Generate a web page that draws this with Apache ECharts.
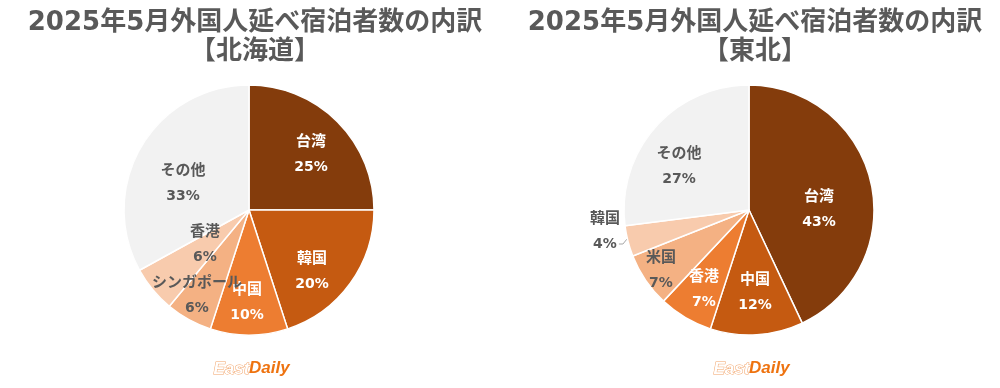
<!DOCTYPE html>
<html><head><meta charset="utf-8">
<script src="https://cdn.jsdelivr.net/npm/echarts@6/dist/echarts.min.js"></script>
<style>html,body{margin:0;padding:0;background:#fff}#c{width:1000px;height:388px}</style>
</head><body><div id="c"></div>
<script>
// Data
const titleMain = '2025年5月外国人延べ宿泊者数の内訳';
const regionA = '【北海道】';
const regionB = '【東北】';
const catsA = ['台湾', '韓国', '中国', 'シンガポール', '香港', 'その他'];
const valsA = [25, 20, 10, 6, 6, 33];
const catsB = ['台湾', '中国', '香港', '米国', '韓国', 'その他'];
const valsB = [43, 12, 7, 7, 4, 27];

// Styles
const palette = ['#843C0C', '#C55A11', '#ED7D31', '#F4B183', '#F8CBAD', '#F2F2F2'];
const textColors = ['#FFFFFF', '#FFFFFF', '#FFFFFF', '#595959', '#595959', '#595959'];
const FONT = '"DejaVu Sans", "Noto Sans CJK JP", sans-serif';
// label centers (relative to pie centre)
const labelPosA = [[62, -55], [63, 62], [-2, 93], [-52, 86], [-44, 35], [-66, -26]];
const labelPosB = [[70, 0], [6, 83], [-45, 80], [-88, 61], [-144, 22], [-70, -43]];
const R = 125;

const chart = echarts.init(document.getElementById('c'));

function makePie(cats, vals, cx, cy, labelPos, outsideIdx) {
  const total = vals.reduce((a, b) => a + b, 0);
  return {
    type: 'pie',
    center: [cx, cy],
    radius: [0, R],
    startAngle: 90,
    clockwise: true,
    silent: true,
    animation: false,
    avoidLabelOverlap: false,
    itemStyle: { borderColor: '#fff', borderWidth: 1.5 },
    data: cats.map((n, i) => {
      const col = i === outsideIdx ? '#595959' : textColors[i];
      return {
        name: n, value: vals[i],
        itemStyle: { color: palette[i] },
        label: {
          show: true,
          position: i === outsideIdx ? 'outside' : 'inside',
          color: col,
          fontFamily: FONT, fontWeight: 'bold', fontSize: 14, lineHeight: 25,
          formatter: p => '{n|' + p.name + '}\n{v|' + p.value + '%}',
          rich: {
            n: { fontFamily: FONT, fontWeight: 'bold', fontSize: 15, lineHeight: 25, color: col },
            v: { fontFamily: FONT, fontWeight: 'bold', fontSize: 14, lineHeight: 25, color: col }
          }
        },
        labelLine: { show: i === outsideIdx, smooth: false, lineStyle: { color: '#A6A6A6', width: 1 } }
      };
    }),
    labelLayout: function (p) {
      const d = labelPos[p.dataIndex];
      const out = { x: cx + d[0], y: cy + d[1], align: 'center', verticalAlign: 'middle' };
      if (p.dataIndex === outsideIdx) {
        let before = 0;
        for (let k = 0; k < p.dataIndex; k++) before += vals[k];
        const mid = (before + vals[p.dataIndex] / 2) / total * 2 * Math.PI;
        const ex = cx + R * Math.sin(mid), ey = cy - R * Math.cos(mid);
        const ty = cy + d[1] + 11;
        out.labelLinePoints = [[ex - 1, ey - 2], [ex - 5, ty + 1], [ex - 9, ty + 1]];
      }
      return out;
    }
  };
}

function logo(cx, cy) {
  return [
    { type: 'text', left: cx - 37, top: cy - 10, style: { text: 'East', font: 'italic bold 17px "Liberation Sans", Arial, sans-serif', fill: '#fff', stroke: '#F2A46A', lineWidth: 1 } },
    { type: 'text', left: cx - 1, top: cy - 10, style: { text: 'Daily', font: 'italic bold 17px "Liberation Sans", Arial, sans-serif', fill: '#EE7310' } }
  ];
}

chart.setOption({
  backgroundColor: '#fff',
  animation: false,
  title: [
    { text: titleMain + '\n' + regionA, left: 250, top: 4, textAlign: 'center',
      textStyle: { fontFamily: FONT, fontWeight: 'bold', fontSize: 26, color: '#595959', lineHeight: 29 } },
    { text: titleMain + '\n' + regionB, left: 750, top: 4, textAlign: 'center',
      textStyle: { fontFamily: FONT, fontWeight: 'bold', fontSize: 26, color: '#595959', lineHeight: 29 } }
  ],
  series: [
    makePie(catsA, valsA, 249, 210, labelPosA, -1),
    makePie(catsB, valsB, 749, 210, labelPosB, 4)
  ],
  graphic: [].concat(logo(250, 370), logo(750, 370))
});
</script></body></html>
